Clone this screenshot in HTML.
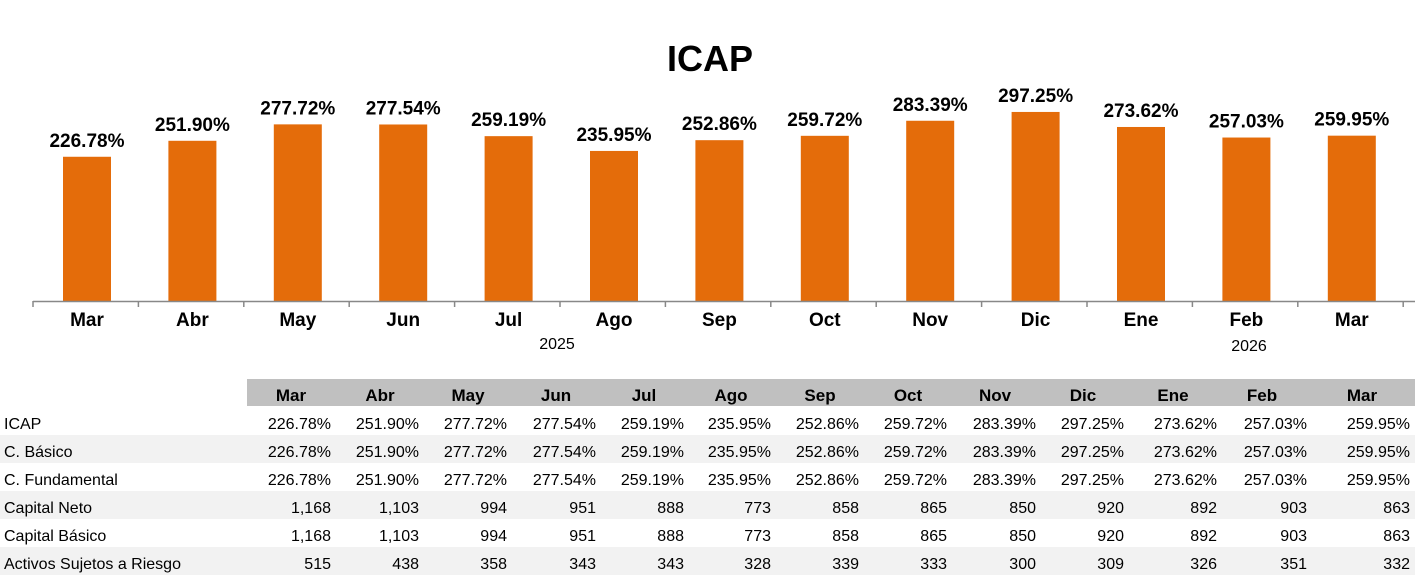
<!DOCTYPE html>
<html><head><meta charset="utf-8"><style>
body{margin:0;background:#fff;width:1415px;height:577px;overflow:hidden;font-family:"Liberation Sans",Arial,sans-serif}
</style></head><body>
<svg width="1415" height="577" xmlns="http://www.w3.org/2000/svg" font-family="Liberation Sans, Arial, sans-serif">
<text x="710" y="71" font-size="36" font-weight="bold" text-anchor="middle">ICAP</text>
<g id="bars"></g>
<line x1="33" y1="301.5" x2="1415" y2="301.5" stroke="#888" stroke-width="1.5"/>
<g id="ticks"></g>
<g id="months" font-size="19" font-weight="bold" text-anchor="middle"></g>
<text x="557" y="349" font-size="16" text-anchor="middle">2025</text>
<text x="1249" y="351" font-size="16" text-anchor="middle">2026</text>
<rect x="247" y="379" width="1168" height="27" fill="#c0c0c0"/>
<rect x="0" y="435" width="1415" height="28" fill="#f2f2f2"/>
<rect x="0" y="491" width="1415" height="28" fill="#f2f2f2"/>
<rect x="0" y="547" width="1415" height="28" fill="#f2f2f2"/>
<g id="tbl" font-size="16"></g>
</svg>
<script>
const ns="http://www.w3.org/2000/svg";
function el(p,t,a,txt){const e=document.createElementNS(ns,t);for(const k in a)e.setAttribute(k,a[k]);if(txt!=null)e.textContent=txt;document.getElementById(p).appendChild(e);}
const m=["Mar","Abr","May","Jun","Jul","Ago","Sep","Oct","Nov","Dic","Ene","Feb","Mar"];
const v=[226.78,251.90,277.72,277.54,259.19,235.95,252.86,259.72,283.39,297.25,273.62,257.03,259.95];
for(let i=0;i<13;i++){const c=87+i*105.4,top=301-0.636*v[i];
el("bars","rect",{x:c-24,y:top,width:48,height:301-top,fill:"#e46c0a"});
el("bars","text",{x:c,y:top-10,"font-size":19,"font-weight":"bold","text-anchor":"middle"},v[i].toFixed(2)+"%");
el("months","text",{x:c,y:326},m[i]);}
for(let i=0;i<=13;i++){const x=33+i*105.4;el("ticks","line",{x1:x,y1:301,x2:x,y2:307,stroke:"#888","stroke-width":1.5});}
const hc=[291,380,468,556,644,731,820,908,995,1083,1173,1262,1362];
const rr=[331,419,507,596,684,771,859,947,1036,1124,1217,1307,1410];
for(let i=0;i<13;i++)el("tbl","text",{x:hc[i],y:401,"font-size":17,"font-weight":"bold","text-anchor":"middle"},m[i]);
const rows=[["ICAP",v.map(x=>x.toFixed(2)+"%")],["C. Básico",v.map(x=>x.toFixed(2)+"%")],["C. Fundamental",v.map(x=>x.toFixed(2)+"%")],
["Capital Neto",["1,168","1,103","994","951","888","773","858","865","850","920","892","903","863"]],
["Capital Básico",["1,168","1,103","994","951","888","773","858","865","850","920","892","903","863"]],
["Activos Sujetos a Riesgo",["515","438","358","343","343","328","339","333","300","309","326","351","332"]]];
rows.forEach((r,j)=>{const y=429+j*28;el("tbl","text",{x:4,y:y},r[0]);
r[1].forEach((t,i)=>el("tbl","text",{x:rr[i],y:y,"text-anchor":"end"},t));});
</script>
</body></html>
